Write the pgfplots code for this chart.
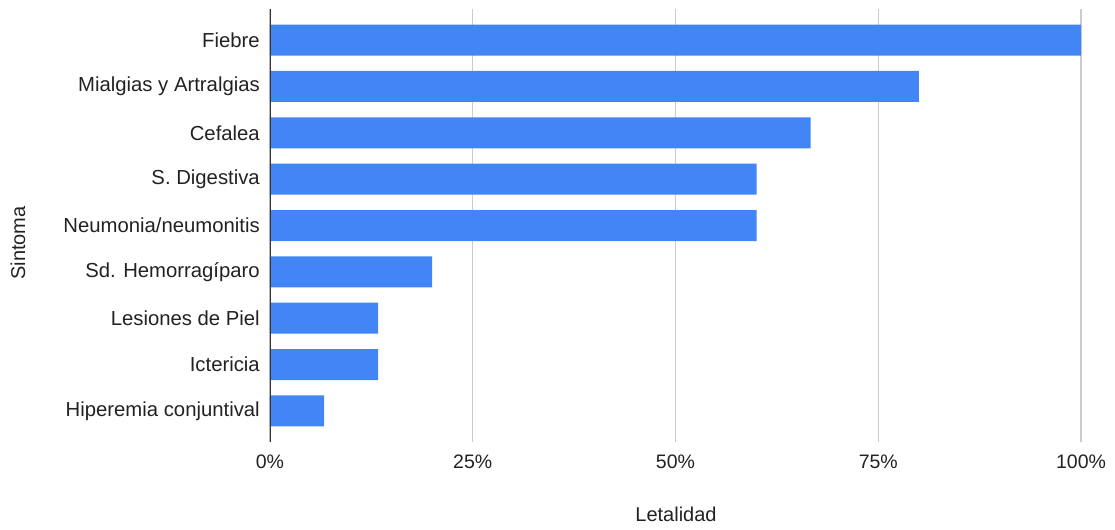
\documentclass[border=0pt]{standalone}
\usepackage{fontspec}
\setmainfont{Liberation Sans}
\usepackage{pgfplots}
\pgfplotsset{compat=1.18}
\definecolor{barblue}{HTML}{4285F4}
\definecolor{gridgray}{HTML}{CCCCCC}
\definecolor{txt}{HTML}{222222}
\definecolor{axisline}{HTML}{333333}
\begin{document}
\begin{tikzpicture}
\begin{axis}[
  scale only axis, width=811bp, height=433bp,
  xmin=0, xmax=100, ymin=-0.67, ymax=8.67,
  y dir=reverse,
  xbar, bar width=31bp,
  axis line style={draw=none},
  major tick length=0pt,
  ytick={0,1,2,3,4,5,6,7,8},
  yticklabels={Fiebre, Mialgias y Artralgias, Cefalea, S. Digestiva, Neumonia/neumonitis, Sd. Hemorragíparo, Lesiones de Piel, Ictericia, Hiperemia conjuntival},
  xtick={0,25,50,75,100},
  xticklabels={0\%,25\%,50\%,75\%,100\%},
  xmajorgrids,
  grid style={gridgray, line width=1.3bp},
  ticklabel style={text=txt, inner sep=0pt},
  yticklabel style={font=\fontsize{20.3bp}{24bp}\selectfont, anchor=east, xshift=-10bp},
  xticklabel style={font=\fontsize{19.5bp}{23bp}\selectfont, anchor=north, yshift=-13bp},
  xlabel={Letalidad}, ylabel={Sintoma},
  every axis x label/.style={at={(rel axis cs:0.5006,-0.1663)}, anchor=center, font=\fontsize{20bp}{24bp}\selectfont, text=txt, inner sep=0pt},
  every axis y label/.style={at={(rel axis cs:-0.3107,0.4596)}, anchor=center, rotate=90, font=\fontsize{20bp}{24bp}\selectfont, text=txt, inner sep=0pt},
]
\addplot[fill=barblue, draw=none] coordinates {
  (100,0) (80,1) (66.67,2) (60,3) (60,4) (20,5) (13.33,6) (13.33,7) (6.67,8)
};
\draw[axisline, line width=1.5bp] (rel axis cs:0,0) -- (rel axis cs:0,1);
\coordinate (bl) at (rel axis cs:-0.3329,-0.2009);
\coordinate (tr) at (rel axis cs:1.0419,1.0208);
\end{axis}
\pgfresetboundingbox
\path[use as bounding box] (bl) rectangle (tr);
\end{tikzpicture}
\end{document}
